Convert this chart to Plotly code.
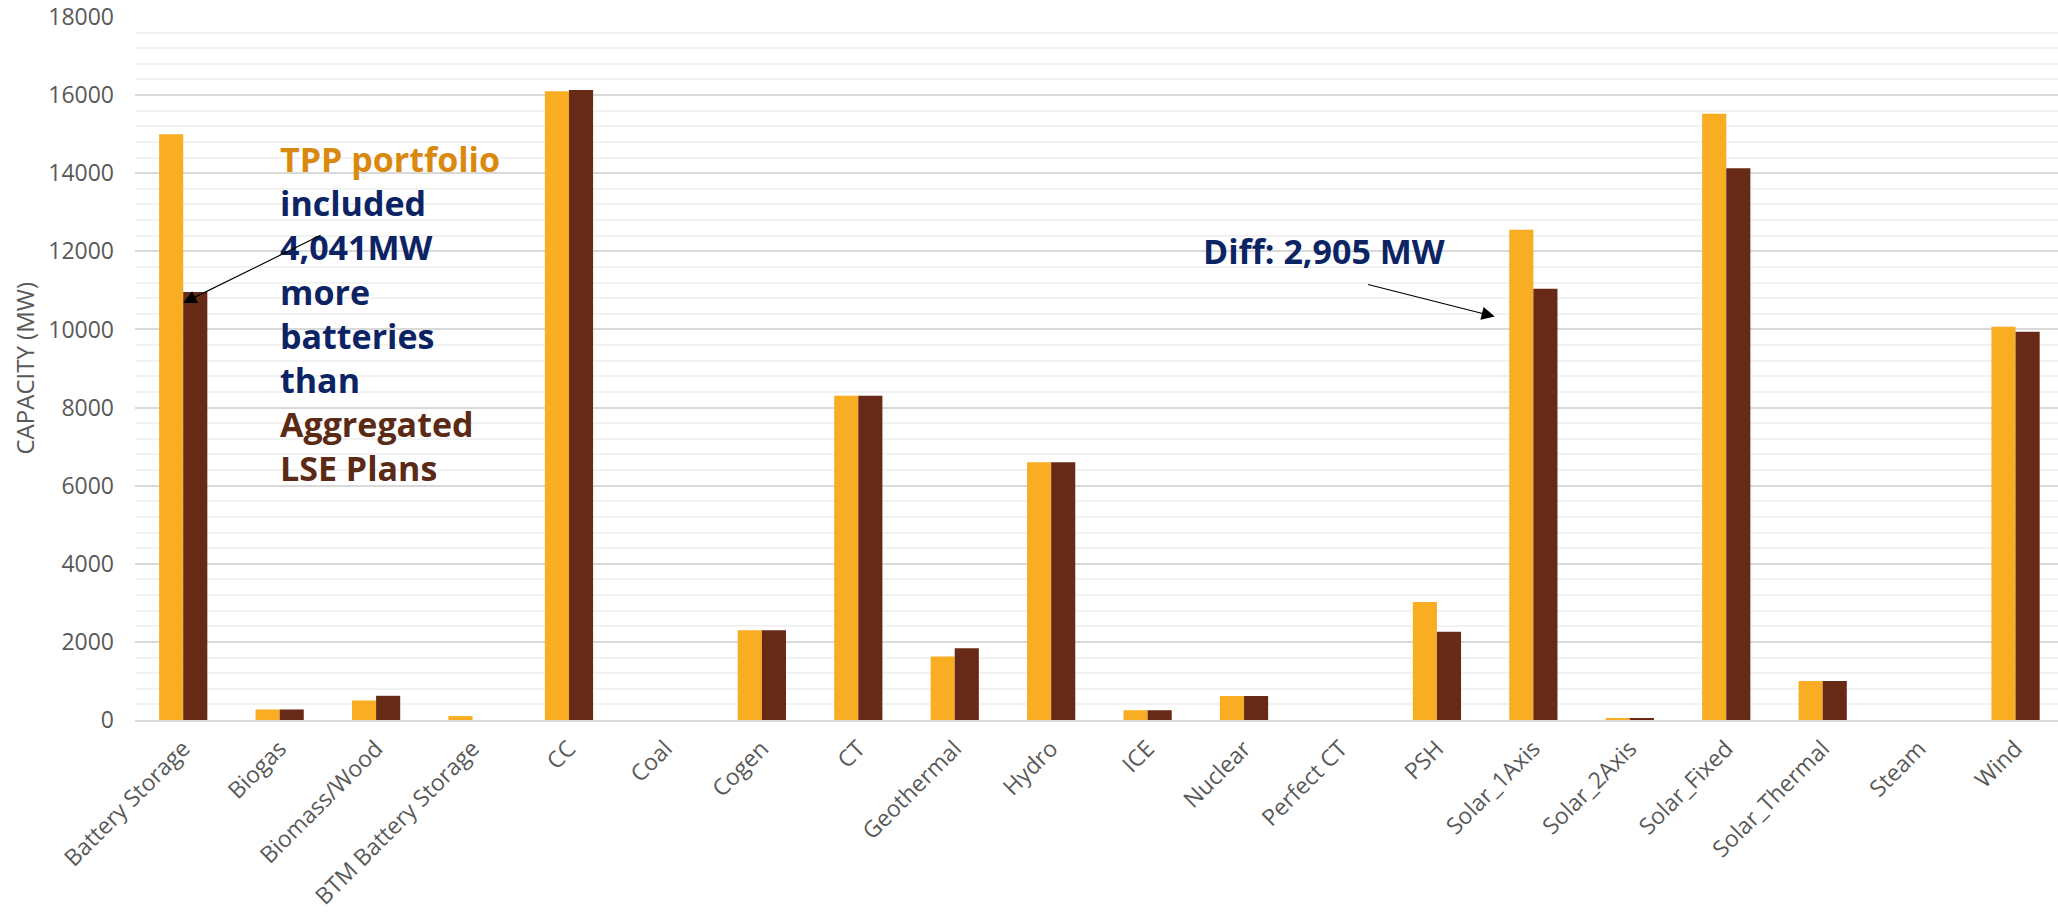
import plotly.graph_objects as go

# Installed capacity by resource type (MW)
categories = [
    "Battery Storage", "Biogas", "Biomass/Wood", "BTM Battery Storage", "CC",
    "Coal", "Cogen", "CT", "Geothermal", "Hydro", "ICE", "Nuclear",
    "Perfect CT", "PSH", "Solar_1Axis", "Solar_2Axis", "Solar_Fixed",
    "Solar_Thermal", "Steam", "Wind",
]
tpp_portfolio = [15000, 270, 500, 100, 16100, 0, 2300, 8300, 1625, 6600,
                 250, 615, 0, 3020, 12550, 45, 15520, 1000, 0, 10070]
lse_plans = [10959, 270, 620, 0, 16130, 0, 2300, 8300, 1840, 6600,
             250, 615, 0, 2260, 11040, 45, 14130, 1000, 0, 9940]

y_ticks = [0, 2000, 4000, 6000, 8000, 10000, 12000, 14000, 16000, 18000]

ORANGE = "#F9AD23"
BROWN = "#672A16"
TXT_ORANGE = "#D98A0E"
TXT_NAVY = "#0C2463"
TXT_BROWN = "#5B2A15"
GREY = "#595959"

fig = go.Figure()
fig.add_trace(go.Bar(x=categories, y=tpp_portfolio, name="TPP portfolio",
                     marker=dict(color=ORANGE, line=dict(width=0))))
fig.add_trace(go.Bar(x=categories, y=lse_plans, name="Aggregated LSE Plans",
                     marker=dict(color=BROWN, line=dict(width=0))))

fig.update_layout(
    width=2058, height=916,
    margin=dict(l=135, r=0, t=17, b=196),
    paper_bgcolor="white", plot_bgcolor="white",
    barmode="group", bargap=0.5, bargroupgap=0,
    showlegend=False,
    font=dict(family="Open Sans", color=GREY),
)

fig.update_xaxes(
    range=[-0.5, 19.44],
    automargin=False,
    tickangle=-45,
    tickfont=dict(family="Open Sans", size=23, color=GREY),
    showgrid=False,
    showline=True, linecolor="#D9D9D9", linewidth=2,
    ticks="", ticklabelstandoff=4,
)
fig.update_yaxes(
    range=[0, 18000],
    automargin=False,
    tickvals=y_ticks,
    ticktext=[str(v) for v in y_ticks],
    tickfont=dict(family="Open Sans", size=23, color=GREY),
    showgrid=True, gridcolor="#D9D9D9", gridwidth=1.5,
    zeroline=False,
    ticklabelstandoff=20,
    minor=dict(dtick=400, showgrid=True, gridcolor="#F2F2F2", gridwidth=1.5),
)

# Axis title
fig.add_annotation(
    text="CAPACITY (MW)", xref="paper", yref="paper",
    x=-(135 - 24) / 1923, y=0.5, xanchor="center", yanchor="middle",
    textangle=-90, showarrow=False,
    font=dict(family="Open Sans", size=24, color=GREY),
)

# Battery callout text
fig.add_annotation(
    text=(f"<span style='color:{TXT_ORANGE}'>TPP portfolio</span><br>"
          f"<span style='color:{TXT_NAVY}'>included<br>4,041MW<br>more<br>batteries<br>than</span><br>"
          f"<span style='color:{TXT_BROWN}'>Aggregated<br>LSE Plans</span>"),
    xref="x", yref="y", x=0.98, y=10400,
    xanchor="left", yanchor="middle", align="left", showarrow=False,
    font=dict(family="Open Sans", size=34, weight="bold"),
)
# Battery callout arrow
fig.add_annotation(
    xref="x", yref="y", axref="x", ayref="y",
    x=0.0, y=10680, ax=1.44, ay=12430,
    text="", showarrow=True, arrowhead=2, arrowsize=2.2, arrowwidth=1.2,
    arrowcolor="black", standoff=0,
)

# Solar difference callout
fig.add_annotation(
    text="Diff: 2,905 MW", xref="x", yref="y", x=11.83, y=12000,
    xanchor="center", yanchor="middle", showarrow=False,
    font=dict(family="Open Sans", size=34, weight="bold", color=TXT_NAVY),
)
fig.add_annotation(
    xref="x", yref="y", axref="x", ayref="y",
    x=13.6, y=10330, ax=12.27, ay=11160,
    text="", showarrow=True, arrowhead=2, arrowsize=2.2, arrowwidth=1.2,
    arrowcolor="black", standoff=0,
)

fig.write_html("out.html")
